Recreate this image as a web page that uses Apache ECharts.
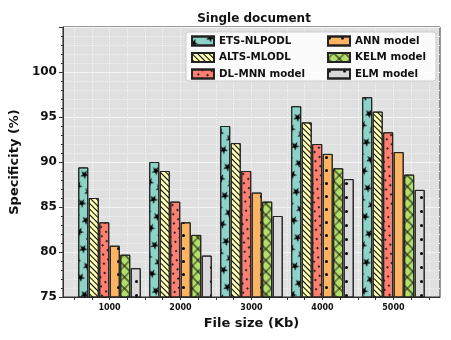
<!DOCTYPE html>
<html lang="en">
<head>
<meta charset="utf-8">
<title>Single document</title>
<script src="https://cdn.jsdelivr.net/npm/echarts@6/dist/echarts.min.js"></script>
<style>
    html, body { margin: 0; padding: 0; background: #fff; }
    #chart { width: 451px; height: 340px; }
</style>
</head>
<body>
<div id="chart"></div>
<script type="text/javascript">
    // file sizes (Kb) on the x axis
    var fileSizes = [1000, 2000, 3000, 4000, 5000];
    var seriesNames = ['ETS-NLPODL', 'ALTS-MLODL', 'DL-MNN model', 'ANN model', 'KELM model', 'ELM model'];
    // specificity (%) per model, one value per file size
    var etsNlpodl = [89.4, 90.0, 94.0, 96.2, 97.2];
    var altsMlodl = [86.0, 89.0, 92.1, 94.4, 95.6];
    var dlMnn     = [83.3, 85.6, 89.0, 92.0, 93.3];
    var annModel  = [80.7, 83.3, 86.6, 90.9, 91.1];
    var kelmModel = [79.7, 81.9, 85.6, 89.3, 88.6];
    var elmModel  = [78.2, 79.6, 84.0, 88.1, 86.9];
    var yTicks = [75, 80, 85, 90, 95, 100];

    var values = [etsNlpodl, altsMlodl, dlMnn, annModel, kelmModel, elmModel];
    var colors = ['#8dd3c7', '#ffffb3', '#fb8072', '#fdb462', '#b3de69', '#d9d9d9'];

    var starPath = 'path://M50,0 L61,35 L98,35 L68,57 L79,91 L50,70 L21,91 L32,57 L2,35 L39,35 Z';
    // a thin "+" tiled into a square grid, turned 45 degrees it reads as 'x' hatching
    var plusPath = 'path://M4.5,0 L5.5,0 L5.5,10 L4.5,10 Z M0,4.5 L10,4.5 L10,5.5 L0,5.5 Z';
    // hatch patterns, roughly like matplotlib's '*', '///', '..', '.', 'x', '.'
    var decals = [
        { symbol: starPath, symbolSize: 1, dashArrayX: [[9, 3]], dashArrayY: [9, 4], color: '#000' },
        { symbol: 'rect', symbolSize: 1, dashArrayX: [[1, 0]], dashArrayY: [1, 3], rotation: Math.PI / 4, color: '#000' },
        { symbol: 'circle', symbolSize: 1, dashArrayX: [[2, 4]], dashArrayY: [2, 5], color: '#000' },
        { symbol: 'circle', symbolSize: 1, dashArrayX: [[3, 10]], dashArrayY: [3, 10], color: '#000' },
        { symbol: plusPath, symbolSize: 1, dashArrayX: [[8, 0]], dashArrayY: [8, 0], rotation: Math.PI / 4, color: '#000' },
        { symbol: 'circle', symbolSize: 1, dashArrayX: [[3, 12]], dashArrayY: [3, 11], color: '#000' }
    ];

    var minorX = [];
    for (var v = 500; v <= 5500; v += 250) { minorX.push(v); }

    var series = [];
    for (var i = 0; i < seriesNames.length; i++) {
        var pts = [];
        for (var j = 0; j < fileSizes.length; j++) {
            pts.push([fileSizes[j], values[i][j]]);
        }
        series.push({
            name: seriesNames[i],
            type: 'bar',
            data: pts,
            barWidth: 10,
            barGap: '5%',
            itemStyle: {
                color: colors[i],
                borderColor: '#222',
                borderWidth: 1,
                decal: decals[i]
            },
            emphasis: { disabled: true }
        });
    }

    var legendText = { fontFamily: 'DejaVu Sans', fontWeight: 'bold', fontSize: 10.3, color: '#111', lineHeight: 14 };

    var chart = echarts.init(document.getElementById('chart'));
    chart.setOption({
        animation: false,
        aria: { decal: { show: true } },
        title: {
            text: 'Single document',
            left: 249,
            textAlign: 'center',
            top: 8,
            textStyle: { fontFamily: 'DejaVu Sans', fontWeight: 'bold', fontSize: 12, color: '#111' }
        },
        grid: {
            left: 58, right: 11, top: 27, bottom: 43,
            show: true,
            backgroundColor: '#e0e0e0',
            borderColor: '#333',
            borderWidth: 1
        },
        graphic: [{
            type: 'rect',
            shape: { x: 186, y: 32, width: 250, height: 49, r: 3 },
            style: { fill: 'rgba(255,255,255,0.85)', stroke: '#cccccc', lineWidth: 1 },
            z: 3
        }],
        legend: [{
            data: seriesNames.slice(0, 3),
            orient: 'vertical',
            left: 186, top: 29,
            icon: 'rect',
            itemWidth: 22, itemHeight: 9, itemGap: 2.5,
            textStyle: legendText,
            selectedMode: false
        }, {
            data: seriesNames.slice(3),
            orient: 'vertical',
            left: 322, top: 29,
            icon: 'rect',
            itemWidth: 22, itemHeight: 9, itemGap: 2.5,
            textStyle: legendText,
            selectedMode: false
        }],
        xAxis: {
            type: 'value',
            min: 344,
            max: 5656,
            name: 'File size (Kb)',
            nameLocation: 'middle',
            nameGap: 17,
            nameTextStyle: { fontFamily: 'DejaVu Sans', fontWeight: 'bold', fontSize: 13, color: '#111' },
            axisLine: { lineStyle: { color: '#333' } },
            axisTick: { show: true, length: 3, customValues: minorX, lineStyle: { color: '#333' } },
            axisLabel: {
                customValues: fileSizes,
                formatter: function (val) { return String(val); },
                fontFamily: 'DejaVu Sans', fontWeight: 'bold', fontSize: 8, color: '#111', margin: 7
            },
            splitLine: { show: true, lineStyle: { color: '#f4f4f4', type: 'dotted', width: 1 } }
        },
        yAxis: {
            type: 'value',
            min: 75,
            max: 105,
            interval: 5,
            name: 'Specificity (%)',
            nameLocation: 'middle',
            nameGap: 34,
            nameTextStyle: { fontFamily: 'DejaVu Sans', fontWeight: 'bold', fontSize: 13, color: '#111' },
            axisLine: { show: true, lineStyle: { color: '#333' } },
            axisTick: { show: true, length: 4, lineStyle: { color: '#333' } },
            minorTick: { show: true, splitNumber: 5, length: 2, lineStyle: { color: '#333' } },
            axisLabel: {
                customValues: yTicks,
                fontFamily: 'DejaVu Sans', fontWeight: 'bold', fontSize: 12, color: '#111', margin: 6
            },
            splitLine: { show: true, lineStyle: { color: '#f4f4f4', type: 'solid', width: 1 } },
            minorSplitLine: { show: true, lineStyle: { color: '#f0f0f0', type: 'dotted', width: 1 } }
        },
        series: series
    });
</script>
</body>
</html>
